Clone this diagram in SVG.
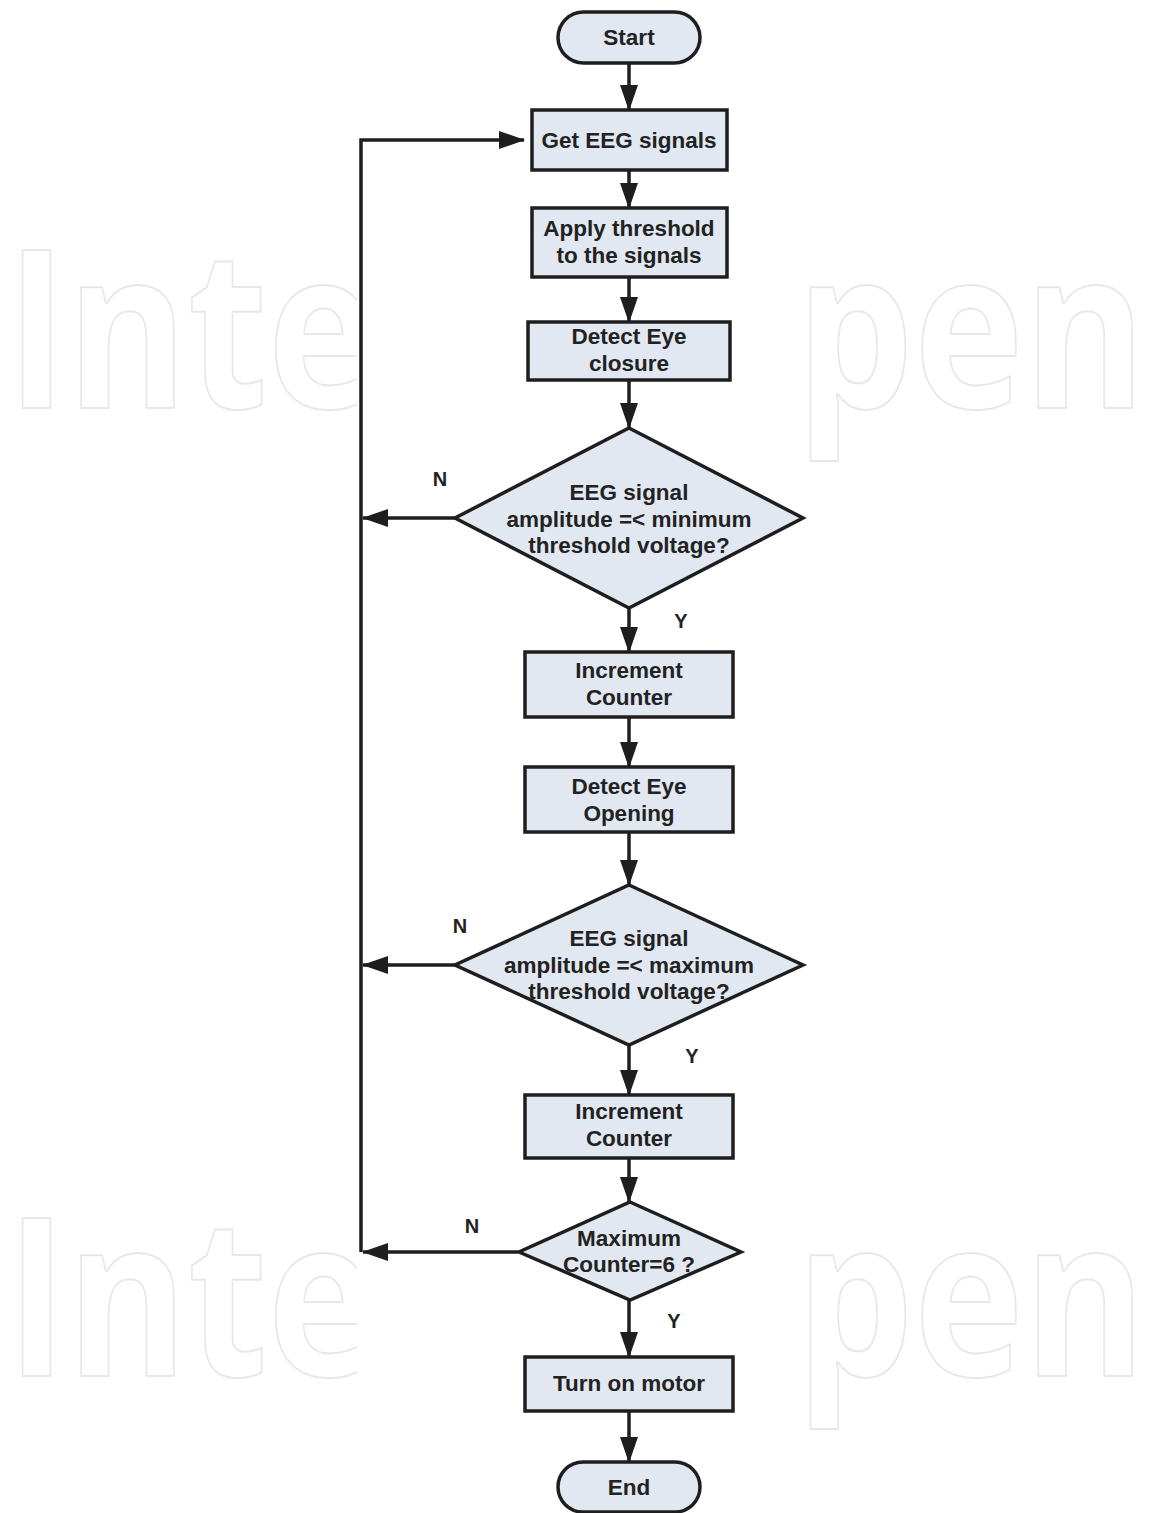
<svg xmlns="http://www.w3.org/2000/svg" width="1151" height="1513" viewBox="0 0 1151 1513">
<style>
.wm{font-family:"Open Sans","Liberation Sans",sans-serif;font-weight:700;font-size:221px;fill:#ffffff;stroke:#e8e8e8;stroke-width:2}
.shape{fill:#e2e8f1;stroke:#1e1e1e;stroke-width:3.5}
.t{font-family:"Liberation Sans",Arial,sans-serif;font-weight:bold;font-size:22.5px;fill:#222;text-anchor:middle}
.lbl{font-family:"Liberation Sans",Arial,sans-serif;font-weight:bold;font-size:20px;fill:#222;text-anchor:middle}
.c{fill:none;stroke:#1e1e1e;stroke-width:3.5}
</style>
<defs>
<marker id="ah" markerUnits="userSpaceOnUse" markerWidth="26" markerHeight="18" refX="25" refY="9" orient="auto">
<path d="M0,0 L26,9 L0,18 z" fill="#1e1e1e"/>
</marker>
</defs>
<rect width="1151" height="1513" fill="#ffffff"/>
<g id="watermark">
<text class="wm" x="6" y="408" textLength="370" lengthAdjust="spacingAndGlyphs">Inte</text>
<text class="wm" x="796" y="408" textLength="350" lengthAdjust="spacingAndGlyphs">pen</text>
<text class="wm" x="6" y="1376" textLength="370" lengthAdjust="spacingAndGlyphs">Inte</text>
<text class="wm" x="796" y="1376" textLength="350" lengthAdjust="spacingAndGlyphs">pen</text>
<rect x="357" y="0" width="418" height="1513" fill="#ffffff"/>
</g>
<g id="connectors">
<line class="c" x1="629" y1="63" x2="629" y2="110" marker-end="url(#ah)"/>
<line class="c" x1="629" y1="170" x2="629" y2="208" marker-end="url(#ah)"/>
<line class="c" x1="629" y1="277" x2="629" y2="322" marker-end="url(#ah)"/>
<line class="c" x1="629" y1="380" x2="629" y2="428" marker-end="url(#ah)"/>
<line class="c" x1="629" y1="608" x2="629" y2="652" marker-end="url(#ah)"/>
<line class="c" x1="629" y1="717" x2="629" y2="767" marker-end="url(#ah)"/>
<line class="c" x1="629" y1="832" x2="629" y2="885" marker-end="url(#ah)"/>
<line class="c" x1="629" y1="1045" x2="629" y2="1095" marker-end="url(#ah)"/>
<line class="c" x1="629" y1="1158" x2="629" y2="1202" marker-end="url(#ah)"/>
<line class="c" x1="629" y1="1300" x2="629" y2="1357" marker-end="url(#ah)"/>
<line class="c" x1="629" y1="1411" x2="629" y2="1462" marker-end="url(#ah)"/>
<polyline class="c" points="361,1252 361,140 524,140" marker-end="url(#ah)"/>
<line class="c" x1="455" y1="518" x2="363" y2="518" marker-end="url(#ah)"/>
<line class="c" x1="455" y1="965" x2="363" y2="965" marker-end="url(#ah)"/>
<line class="c" x1="518" y1="1252" x2="363" y2="1252" marker-end="url(#ah)"/>
<text class="lbl" x="440" y="486">N</text>
<text class="lbl" x="681" y="628">Y</text>
<text class="lbl" x="460" y="933">N</text>
<text class="lbl" x="692" y="1063">Y</text>
<text class="lbl" x="472" y="1233">N</text>
<text class="lbl" x="674" y="1328">Y</text>
</g>
<g id="start">
<rect class="shape" x="558" y="12" width="142" height="51" rx="25.5"/>
<text class="t" x="629" y="45">Start</text>
</g>
<g id="get-eeg">
<rect class="shape" x="532" y="110" width="195" height="60"/>
<text class="t" x="629" y="148">Get EEG signals</text>
</g>
<g id="apply-threshold">
<rect class="shape" x="532" y="208" width="195" height="69"/>
<text class="t" x="629" y="236">Apply threshold</text>
<text class="t" x="629" y="263">to the signals</text>
</g>
<g id="detect-closure">
<rect class="shape" x="528" y="322" width="202" height="58"/>
<text class="t" x="629" y="344">Detect Eye</text>
<text class="t" x="629" y="371">closure</text>
</g>
<g id="decision-min">
<polygon class="shape" points="629,428 803,518 629,608 455,518"/>
<text class="t" x="629" y="500">EEG signal</text>
<text class="t" x="629" y="527">amplitude =&lt; minimum</text>
<text class="t" x="629" y="553">threshold voltage?</text>
</g>
<g id="increment-1">
<rect class="shape" x="525" y="652" width="208" height="65"/>
<text class="t" x="629" y="678">Increment</text>
<text class="t" x="629" y="705">Counter</text>
</g>
<g id="detect-opening">
<rect class="shape" x="525" y="767" width="208" height="65"/>
<text class="t" x="629" y="794">Detect Eye</text>
<text class="t" x="629" y="821">Opening</text>
</g>
<g id="decision-max">
<polygon class="shape" points="629,885 803,965 629,1045 455,965"/>
<text class="t" x="629" y="946">EEG signal</text>
<text class="t" x="629" y="973">amplitude =&lt; maximum</text>
<text class="t" x="629" y="999">threshold voltage?</text>
</g>
<g id="increment-2">
<rect class="shape" x="525" y="1095" width="208" height="63"/>
<text class="t" x="629" y="1119">Increment</text>
<text class="t" x="629" y="1146">Counter</text>
</g>
<g id="decision-counter">
<polygon class="shape" points="630,1202 741,1252 630,1300 519,1252"/>
<text class="t" x="629" y="1246">Maximum</text>
<text class="t" x="629" y="1272">Counter=6 ?</text>
</g>
<g id="motor">
<rect class="shape" x="525" y="1357" width="208" height="54"/>
<text class="t" x="629" y="1391">Turn on motor</text>
</g>
<g id="end">
<rect class="shape" x="558" y="1462" width="142" height="50" rx="25"/>
<text class="t" x="629" y="1495">End</text>
</g>
</svg>
